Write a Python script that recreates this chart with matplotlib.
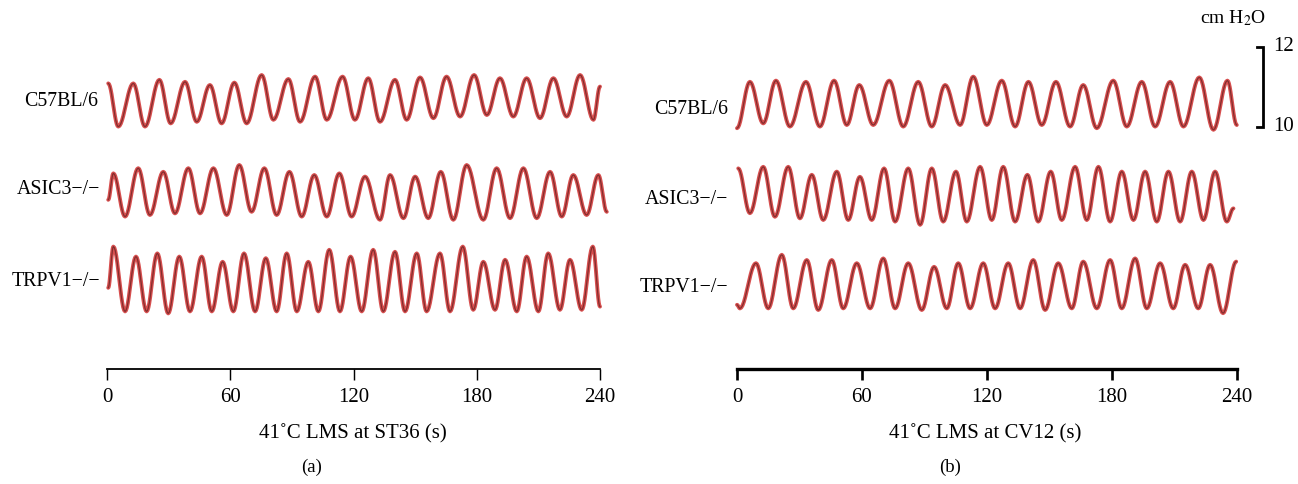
import numpy as np
import matplotlib
matplotlib.use("Agg")
import matplotlib.pyplot as plt

# ---------------- data (extrema: time s, pressure cmH2O) ----------------
strains = ["C57BL/6", "ASIC3\u2212/\u2212", "TRPV1\u2212/\u2212"]
panel_titles = ["41\u02daC LMS at ST36 (s)", "41\u02daC LMS at CV12 (s)"]
panel_tags = ["(a)", "(b)"]
xticks = [0, 60, 120, 180, 240]

a_c57_t = [0.6, 5.5, 12.8, 18.5, 25.5, 31.0, 38.0, 43.7, 50.1, 55.8, 62.0, 68.0, 75.3, 81.0, 88.3, 94.0,
           101.3, 107.0, 114.7, 120.7, 127.2, 132.9, 140.2, 145.9, 152.4, 158.9, 165.3, 171.9, 178.7,
           184.9, 191.3, 197.8, 204.3, 210.8, 217.3, 223.8, 230.3, 236.8, 240.0]
a_c57_p = [11.09, 10.01, 11.09, 10.01, 11.18, 10.09, 11.13, 10.13, 11.05, 10.09, 11.11, 10.09, 11.30, 10.18,
           11.20, 10.13, 11.26, 10.18, 11.26, 10.18, 11.22, 10.13, 11.18, 10.18, 11.24, 10.22, 11.26, 10.26,
           11.30, 10.30, 11.22, 10.26, 11.22, 10.22, 11.22, 10.26, 11.30, 10.18, 11.01]

a_asic_t = [0.6, 3.1, 8.8, 15.2, 20.9, 27.4, 33.1, 39.6, 45.3, 51.8, 58.3, 64.4, 70.4, 76.6, 82.6, 88.8,
            94.8, 100.9, 107.0, 113.1, 119.1, 125.6, 132.9, 137.8, 144.3, 150.0, 156.4, 162.5, 168.6,
            175.1, 183.2, 189.7, 196.2, 202.7, 209.2, 215.7, 221.4, 227.0, 233.5, 239.2, 243.3]
a_asic_p = [10.43, 11.09, 10.01, 11.22, 10.05, 11.13, 10.09, 11.22, 10.09, 11.22, 10.05, 11.30, 10.13, 11.22,
            10.05, 11.13, 10.01, 11.05, 10.01, 11.09, 10.01, 11.01, 9.93, 11.05, 9.97, 11.01, 9.97, 11.13,
            9.93, 11.30, 9.93, 11.22, 9.97, 11.22, 9.97, 11.13, 10.01, 11.05, 10.05, 11.05, 10.13]

a_trpv_t = [0.6, 3.1, 8.8, 14.1, 19.3, 24.5, 29.8, 35.2, 40.4, 46.1, 51.0, 56.3, 61.5, 66.7, 72.1, 77.3,
            82.6, 87.5, 92.4, 98.0, 102.9, 108.2, 113.4, 118.6, 124.0, 129.6, 134.5, 140.2, 145.1, 150.8,
            155.6, 162.1, 167.0, 173.2, 178.3, 183.2, 188.9, 193.8, 199.5, 204.3, 210.0, 214.8, 220.5,
            225.4, 231.1, 236.5, 240.0]
a_trpv_p = [10.58, 11.61, 9.99, 11.36, 9.99, 11.44, 9.94, 11.36, 9.99, 11.36, 9.99, 11.23, 9.99, 11.44, 9.99,
            11.32, 9.99, 11.44, 9.99, 11.23, 9.99, 11.53, 9.99, 11.36, 9.99, 11.53, 9.99, 11.48, 9.99, 11.44,
            9.99, 11.44, 9.99, 11.61, 10.03, 11.23, 10.03, 11.28, 9.99, 11.36, 9.99, 11.44, 10.03, 11.28,
            10.03, 11.61, 10.11]

b_c57_t = [0.0, 6.2, 12.6, 18.7, 25.4, 33.1, 39.8, 46.6, 52.7, 58.7, 65.4, 73.1, 79.8, 87.0, 93.5, 99.9,
           107.1, 113.4, 119.9, 127.1, 133.5, 139.9, 146.3, 153.1, 159.9, 166.2, 172.7, 180.6, 187.1,
           194.3, 200.7, 207.9, 214.3, 221.9, 228.7, 235.4, 239.9]
b_c57_p = [9.97, 11.13, 10.09, 11.16, 10.01, 11.13, 10.01, 11.16, 10.05, 11.05, 10.05, 11.16, 10.01, 11.13,
           10.01, 11.05, 10.05, 11.26, 10.05, 11.16, 10.01, 11.13, 10.05, 11.13, 10.01, 11.05, 9.97, 11.16,
           10.01, 11.13, 10.01, 11.13, 10.01, 11.24, 9.93, 11.16, 10.05]

b_asic_t = [0.6, 6.2, 12.6, 18.2, 24.6, 30.2, 35.9, 41.4, 47.9, 53.4, 59.0, 64.7, 70.6, 75.9, 82.2, 87.9,
            93.5, 99.0, 105.1, 110.3, 116.7, 122.3, 127.8, 133.5, 139.4, 144.6, 150.6, 155.9, 162.3,
            167.9, 173.5, 179.1, 184.7, 190.3, 195.9, 201.5, 207.1, 212.7, 218.3, 223.9, 229.5, 235.1, 238.3]
b_asic_p = [11.29, 10.17, 11.33, 10.08, 11.33, 10.04, 11.13, 10.00, 11.21, 10.00, 11.08, 10.00, 11.29, 9.96,
            11.29, 9.88, 11.29, 9.96, 11.21, 9.96, 11.33, 10.00, 11.33, 9.96, 11.13, 9.96, 11.21, 10.00,
            11.33, 10.00, 11.33, 9.96, 11.21, 10.00, 11.21, 9.96, 11.21, 9.96, 11.21, 10.00, 11.21, 9.96,
            10.29]

b_trpv_t = [0.0, 1.4, 9.1, 15.0, 21.5, 27.0, 33.5, 39.0, 45.5, 51.0, 57.5, 63.9, 70.2, 75.9, 82.2, 88.7,
            94.6, 100.7, 106.2, 111.9, 118.2, 123.9, 130.2, 135.9, 142.2, 147.9, 154.2, 160.7, 166.2,
            172.7, 179.1, 184.7, 191.1, 196.7, 203.1, 209.4, 215.1, 221.4, 227.1, 233.3, 239.6]
b_trpv_p = [10.08, 9.99, 11.12, 9.99, 11.33, 9.99, 11.20, 9.95, 11.20, 9.99, 11.12, 9.99, 11.24, 9.99,
            11.12, 9.95, 11.03, 9.99, 11.12, 9.99, 11.12, 9.99, 11.12, 9.99, 11.20, 9.95, 11.12, 9.99,
            11.16, 9.99, 11.20, 9.99, 11.24, 9.99, 11.12, 9.99, 11.08, 9.99, 11.08, 9.87, 11.16]

scale_low, scale_high = 10, 12
scale_unit = "cm H$_2$O"

panels = [
    [(a_c57_t, a_c57_p), (a_asic_t, a_asic_p), (a_trpv_t, a_trpv_p)],
    [(b_c57_t, b_c57_p), (b_asic_t, b_asic_p), (b_trpv_t, b_trpv_p)],
]

# ---------------- layout ----------------
W, H = 1298, 484
fig = plt.figure(figsize=(W / 100, H / 100), dpi=100)
SERIF = ["Liberation Serif", "DejaVu Serif"]
plt.rcParams["font.family"] = SERIF
plt.rcParams["mathtext.fontset"] = "stix"


def px(x, y):
    return x / W, 1 - y / H


ax_top, ax_bot = 30, 369
axes_px = [(107, 600), (737, 1237)]
row_base = [[6.05, 3.80, 1.45], [6.05, 3.725, 1.525]]   # plotted position of 10 cmH2O per row
label_pos = [[(98, 101), (100, 189), (100, 281)], [(728, 109), (728, 199), (728, 288)]]
spine_lw = [1.3, 2.4]
xlabel_x = [353, 985]
tag_x = [312, 950]
FS = 15
LFS = 14.3


def smooth(ts, ps, n=12):
    xs, ys = [], []
    for i in range(len(ts) - 1):
        s = np.linspace(0, 1, n, endpoint=False)
        xs.append(ts[i] + (ts[i + 1] - ts[i]) * s)
        ys.append(ps[i] + (ps[i + 1] - ps[i]) * (1 - np.cos(np.pi * s)) / 2)
    xs.append([ts[-1]])
    ys.append([ps[-1]])
    return np.concatenate(xs), np.concatenate(ys)


for k in range(2):
    x0, x1 = axes_px[k]
    l, b = px(x0, ax_bot)
    ax = fig.add_axes([l, b, (x1 - x0) / W, (ax_bot - ax_top) / H])
    ax.set_xlim(0, 240)
    ax.set_ylim(0, (ax_bot - ax_top) / 40)
    for s in ["top", "right", "left"]:
        ax.spines[s].set_visible(False)
    ax.spines["bottom"].set_linewidth(spine_lw[k])
    ax.set_yticks([])
    ax.set_xticks(xticks)
    ax.tick_params(axis="x", direction="out", length=8, width=spine_lw[k] * 0.8,
                   labelsize=FS, pad=6)
    for lab in ax.get_xticklabels():
        lab.set_fontfamily(SERIF)
    ax.patch.set_alpha(0)
    for r, (ts, ps) in enumerate(panels[k]):
        xs, ys = smooth(ts, ps)
        yy = row_base[k][r] + (ys - 10)
        ax.plot(xs, yy, color="#d03030", lw=2.8, alpha=0.85, clip_on=False, solid_capstyle="round")
        ax.plot(xs, yy, color="#7a2a2a", lw=0.9, alpha=0.9, clip_on=False)
        lx, ly = label_pos[k][r]
        fig.text(*px(lx, ly), strains[r], ha="right", va="center", fontsize=LFS, family=SERIF)
    fig.text(*px(xlabel_x[k], 434), panel_titles[k], ha="center", va="center", fontsize=FS, family=SERIF)
    fig.text(*px(tag_x[k], 467), panel_tags[k], ha="center", va="center", fontsize=13.5, family=SERIF)
    if k == 1:
        base = row_base[1][0]
        xb = 252.5
        ax.plot([xb - 3, xb, xb, xb - 3],
                [base + scale_high - 10, base + scale_high - 10, base, base],
                color="black", lw=2.0, clip_on=False, solid_joinstyle="miter")
        ax.text(xb + 5, base + scale_high - 10, str(scale_high), ha="left", va="center", fontsize=FS)
        ax.text(xb + 5, base, str(scale_low), ha="left", va="center", fontsize=FS)
        fig.text(*px(1233, 18), scale_unit, ha="center", va="center", fontsize=14, family=SERIF)

fig.savefig("out.png", dpi=100)
